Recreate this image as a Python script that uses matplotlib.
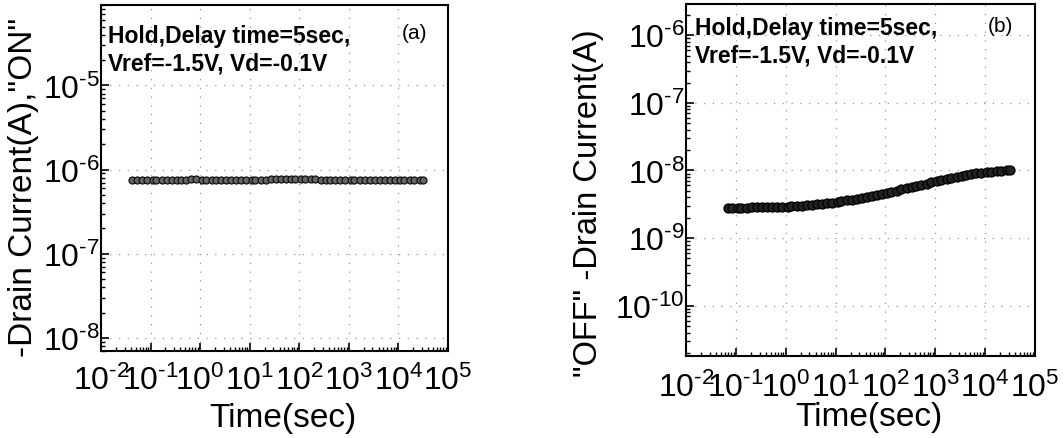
import matplotlib
matplotlib.use("Agg")
import math
import matplotlib.pyplot as plt
from matplotlib.ticker import LogLocator, NullFormatter, FuncFormatter

plt.rcParams['font.family'] = ['Liberation Sans', 'DejaVu Sans']
plt.rcParams['mathtext.fontset'] = 'custom'
plt.rcParams['mathtext.rm'] = 'Liberation Sans'
plt.rcParams['mathtext.it'] = 'Liberation Sans:italic'
plt.rcParams['mathtext.bf'] = 'Liberation Sans:bold'
plt.rcParams['axes.unicode_minus'] = False

# ---- data ----
time_on = [0.042, 0.053, 0.067, 0.084, 0.11, 0.13, 0.17, 0.21, 0.27, 0.34,
           0.42, 0.53, 0.67, 0.84, 1.1, 1.3, 1.7, 2.1, 2.7, 3.4,
           4.2, 5.3, 6.7, 8.4, 11, 13, 17, 21, 27, 34,
           42, 53, 67, 84, 110, 130, 170, 210, 270, 340,
           420, 530, 670, 840, 1100, 1300, 1700, 2100, 2700, 3400,
           4200, 5300, 6700, 8400, 11000, 13000, 17000, 21000, 27000, 32000]
current_on = [7.6e-7, 7.6e-7, 7.6e-7, 7.6e-7, 7.6e-7, 7.6e-7, 7.6e-7, 7.6e-7, 7.6e-7, 7.6e-7,
              7.6e-7, 7.6e-7, 7.7e-7, 7.7e-7, 7.6e-7, 7.6e-7, 7.6e-7, 7.6e-7, 7.6e-7, 7.6e-7,
              7.6e-7, 7.6e-7, 7.6e-7, 7.6e-7, 7.6e-7, 7.6e-7, 7.6e-7, 7.6e-7, 7.7e-7, 7.7e-7,
              7.7e-7, 7.7e-7, 7.7e-7, 7.7e-7, 7.7e-7, 7.7e-7, 7.7e-7, 7.7e-7, 7.6e-7, 7.6e-7,
              7.6e-7, 7.6e-7, 7.6e-7, 7.6e-7, 7.6e-7, 7.6e-7, 7.6e-7, 7.6e-7, 7.6e-7, 7.6e-7,
              7.6e-7, 7.6e-7, 7.6e-7, 7.6e-7, 7.6e-7, 7.6e-7, 7.6e-7, 7.6e-7, 7.6e-7, 7.6e-7]

time_off = [0.07, 0.084, 0.11, 0.13, 0.17, 0.21, 0.27, 0.34,
            0.42, 0.53, 0.67, 0.84, 1.1, 1.3, 1.7, 2.1, 2.7, 3.4,
            4.2, 5.3, 6.7, 8.4, 11, 13, 17, 21, 27, 34,
            42, 53, 67, 84, 110, 130, 170, 210, 270, 340,
            420, 530, 670, 840, 1100, 1300, 1700, 2100, 2700, 3400,
            4200, 5300, 6700, 8400, 11000, 13000, 17000, 21000, 27000, 32000]
current_off = [2.80e-9, 2.80e-9, 2.81e-9, 2.82e-9, 2.83e-9, 2.84e-9, 2.85e-9, 2.86e-9,
               2.87e-9, 2.88e-9, 2.89e-9, 2.90e-9, 2.92e-9, 2.95e-9, 2.98e-9, 3.01e-9, 3.05e-9, 3.10e-9,
               3.15e-9, 3.20e-9, 3.27e-9, 3.34e-9, 3.42e-9, 3.50e-9, 3.60e-9, 3.70e-9, 3.82e-9, 3.95e-9,
               4.08e-9, 4.22e-9, 4.38e-9, 4.52e-9, 4.68e-9, 4.85e-9, 5.04e-9, 5.23e-9, 5.45e-9, 5.65e-9,
               5.88e-9, 6.12e-9, 6.38e-9, 6.65e-9, 6.92e-9, 7.20e-9, 7.48e-9, 7.75e-9, 8.05e-9, 8.30e-9,
               8.55e-9, 8.80e-9, 9.02e-9, 9.25e-9, 9.45e-9, 9.62e-9, 9.80e-9, 9.95e-9, 1.01e-8, 1.02e-8]

annotation = "Hold,Delay time=5sec,\nVref=-1.5V, Vd=-0.1V"


def pow10_label(v, pos):
    n = int(round(math.log10(v)))
    s = str(abs(n))
    if n < 0:
        s = '\u2010' + s
    return r'$\mathdefault{10^{' + s + r'}}$'


fig = plt.figure(figsize=(10.64, 4.39), dpi=100)
axA = fig.add_axes([0.0949, 0.1982, 0.3261, 0.7881])
axB = fig.add_axes([0.6447, 0.1868, 0.3280, 0.8018])


def style(ax, ylim, xpad):
    ax.set_xscale('log')
    ax.set_yscale('log')
    ax.set_xlim(1e-2, 1e5)
    ax.set_ylim(*ylim)
    ax.xaxis.set_major_locator(LogLocator(base=10, numticks=20))
    ax.xaxis.set_minor_locator(LogLocator(base=10, subs=range(2, 10), numticks=20))
    ax.yaxis.set_major_locator(LogLocator(base=10, numticks=20))
    ax.yaxis.set_minor_locator(LogLocator(base=10, subs=range(2, 10), numticks=20))
    ax.xaxis.set_major_formatter(FuncFormatter(pow10_label))
    ax.yaxis.set_major_formatter(FuncFormatter(pow10_label))
    ax.xaxis.set_minor_formatter(NullFormatter())
    ax.yaxis.set_minor_formatter(NullFormatter())
    ax.tick_params(which='major', direction='in', length=6, width=1.2, labelsize=23)
    ax.tick_params(which='minor', direction='in', length=3, width=1.0)
    ax.tick_params(axis='x', which='major', pad=xpad)
    ax.tick_params(axis='y', which='major', pad=1)
    for s in ax.spines.values():
        s.set_linewidth(1.5)
    ax.grid(True, which='major', color='#999999', linestyle=(0, (1, 6)), linewidth=0.9)
    ax.set_xlabel('Time(sec)', fontsize=24)


style(axA, (7e-9, 9e-5), 10)
axA.xaxis.set_label_coords(0.525, -0.148)
axA.plot(time_on, current_on, 'o', ms=5, mfc='#666666', mec='#111111', mew=0.9)
axA.set_ylabel('-Drain Current(A),"ON"', fontsize=24)
axA.yaxis.set_label_coords(-0.178, 0.477)
axA.text(0.02, 0.945, annotation, transform=axA.transAxes, fontsize=16.5,
         fontweight='bold', va='top', ha='left', linespacing=1.25)
axA.text(0.94, 0.947, '(a)', transform=axA.transAxes, fontsize=15,
         va='top', ha='right')

style(axB, (1.8e-11, 2.9e-6), 11)
axB.xaxis.set_label_coords(0.525, -0.128)
axB.plot(time_off, current_off, 'o', ms=6.5, mfc='#222222', mec='#000000', mew=0.9)
axB.set_ylabel('"OFF" -Drain Current(A)', fontsize=23.5)
axB.yaxis.set_label_coords(-0.235, 0.4375)
axB.text(0.025, 0.965, annotation, transform=axB.transAxes, fontsize=16.5,
         fontweight='bold', va='top', ha='left', linespacing=1.25)
axB.text(0.937, 0.967, '(b)', transform=axB.transAxes, fontsize=15,
         va='top', ha='right')

fig.savefig('out.png', dpi=100)
